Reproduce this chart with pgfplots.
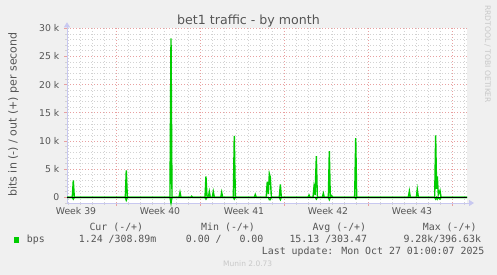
\documentclass[border=0pt]{standalone}
\usepackage{pgfplots}
\pgfplotsset{compat=1.18}
\usepackage{fontspec}
\setmainfont{DejaVu Sans}
\newfontfamily\monofont{DejaVu Sans Mono}
\usetikzlibrary{arrows.meta}
\definecolor{bgc}{HTML}{F0F0F0}
\definecolor{txt}{HTML}{555555}
\definecolor{grn}{HTML}{00CC00}
\definecolor{mgrid}{HTML}{E8A0A0}
\definecolor{mngrid}{HTML}{D2D2D2}
\definecolor{axc}{HTML}{C8C8F0}
\definecolor{light}{HTML}{C8C8C8}
\begin{document}
\begin{tikzpicture}[x=1pt,y=1pt]
\fill[bgc] (0,0) rectangle (497,275);
\useasboundingbox (0,0) rectangle (497,275);
\begin{axis}[
  at={(67pt,72pt)}, anchor=south west,
  width=400pt, height=174.7pt, scale only axis,
  xmin=0, xmax=33.333, ymin=-1000, ymax=30000,
  scaled y ticks=false, scaled x ticks=false,
  axis x line=bottom, axis y line=left,
  x axis line style={axc, line width=0.8pt, shorten >=-7pt, -{Triangle[width=6pt,length=5pt]}},
  y axis line style={axc, line width=0.8pt, shorten >=-6pt, -{Triangle[width=6pt,length=5pt]}},
  axis background/.style={fill=white},
  xtick={4.083,11.083,18.083,25.083,32.083},
  xticklabels={},
  minor xtick={0.083,1.083,2.083,3.083,5.083,6.083,7.083,8.083,9.083,10.083,12.083,13.083,14.083,15.083,16.083,17.083,19.083,20.083,21.083,22.083,23.083,24.083,26.083,27.083,28.083,29.083,30.083,31.083,33.083},
  extra x ticks={0.75,7.75,14.75,21.75,28.75},
  extra x tick labels={Week 39,Week 40,Week 41,Week 42,Week 43},
  extra x tick style={major tick length=0pt, grid=none, xticklabel style={anchor=base, yshift=-12pt}},
  ytick={0,5000,10000,15000,20000,25000,30000},
  yticklabels={0,5 k,10 k,15 k,20 k,25 k,30 k},
  minor ytick={-1000,1000,2000,3000,4000,6000,7000,8000,9000,11000,12000,13000,14000,16000,17000,18000,19000,21000,22000,23000,24000,26000,27000,28000,29000},
  grid=both,
  major grid style={mgrid, dash pattern=on 1pt off 2pt, line width=0.7pt},
  minor grid style={mngrid, dash pattern=on 1pt off 2pt, line width=0.7pt},
  tick align=outside, major tick length=3pt, minor tick length=2pt,
  major tick style={mgrid, line width=0.7pt},
  minor tick style={mngrid, line width=0.7pt},
  ticklabel style={font=\fontsize{9.3}{11}\selectfont, text=txt},
  yticklabel style={anchor=east, inner sep=0pt, xshift=-4.5pt},
  clip=false,
]
\addplot[grn, line width=1.4pt] coordinates {
(0,0) (0.44,0)(0.525,3000)(0.61,0)
(4.86,0)(4.94,4800)(5.03,0)
(8.58,0)(8.667,28200)(8.75,0)
(9.33,0)(9.417,900)(9.5,0)
(10.31,0)(10.39,200)(10.47,0)
(11.5,0)(11.58,3700)(11.67,0)
(11.78,0)(11.86,1000)(11.94,0)
(12.11,0)(12.19,1000)(12.28,0)
(12.81,0)(12.89,900)(12.97,0)
(13.86,0)(13.94,10900)(14.03,0)
(15.61,0)(15.69,500)(15.78,0)
(16.6,0)(16.69,2800)(16.78,600)(16.86,4200)(16.94,3600)(17.03,0)
(17.69,0)(17.78,2300)(17.86,0)
(20.08,0)(20.17,400)(20.25,0)
(20.5,0)(20.58,1800)(20.67,400)(20.78,7300)(20.86,0)
(21.28,0)(21.36,700)(21.44,0)
(21.78,0)(21.86,8200)(21.94,0)
(21.99,0)(22.06,300)(22.14,0)
(23.97,0)(24.06,10500)(24.14,0)
(28.44,0)(28.53,1100)(28.61,0)
(29.11,0)(29.19,1400)(29.28,0)
(30.64,0)(30.72,11000)(30.8,1500)(30.86,3700)(30.94,500)(31.08,1200)(31.17,0)
(33.333,0)
};
\addplot[grn, line width=1.4pt] coordinates {
(0,0) (0.44,0)(0.525,-300)(0.61,0)
(4.86,0)(4.94,-500)(5.03,0)
(8.58,0)(8.667,-1000)(8.75,0)
(11.5,0)(11.58,-300)(11.67,0)
(13.86,0)(13.94,-300)(14.03,0)
(16.78,0)(16.86,-400)(16.94,-400)(17.03,0)
(17.69,0)(17.78,-400)(17.86,0)
(20.69,0)(20.78,-300)(20.86,0)
(21.78,0)(21.86,-400)(21.94,0)
(23.97,0)(24.06,-200)(24.14,0)
(30.64,0)(30.72,-300)(30.8,0)(30.86,-300)(30.94,0)(31.08,-300)(31.17,0)
(33.333,0)
};
\addplot[black, line width=1.4pt] coordinates {(0,0) (33.333,0)};
\end{axis}
% title
\node[anchor=base, text=txt, font=\fontsize{12.6}{14}\selectfont, inner sep=0pt] at (248.5,250.5) {bet1 traffic - by month};
% y label
\node[anchor=base, rotate=90, text=txt, font=\fontsize{11}{13}\selectfont, inner sep=0pt] at (16.5,160.5) {bits in (-) / out (+) per second};
% rrdtool watermark
\node[anchor=base west, rotate=-90, text=light, font=\fontsize{7.6}{9}\selectfont, inner sep=0pt] at (485,270) {RRDTOOL / TOBI OETIKER};
% legend
\begin{scope}[every node/.style={anchor=base west, inner sep=0pt, text=txt, font=\monofont\fontsize{9.9}{11}\selectfont}]
\node at (89.3,44.5) {Cur (-/+)};
\node at (201,44.5) {Min (-/+)};
\node at (312.3,44.5) {Avg (-/+)};
\node at (422.7,44.5) {Max (-/+)};
\fill[grn] (14,32.3) rectangle (19.3,37.7);
\node at (26.7,32.2) {bps};
\node at (78.7,32.2) {1.24 /308.89m};
\node at (185.7,32.2) {0.00 /\ \ \ 0.00};
\node at (289.3,32.2) {15.13 /303.47};
\node at (403.3,32.2) {9.28k/396.63k};
\node at (261.7,20.5) {Last update: Mon Oct 27 01:00:07 2025};
\end{scope}
\node[anchor=base west, inner sep=0pt, text=light, font=\fontsize{7.5}{9}\selectfont] at (223,8) {Munin 2.0.73};
\end{tikzpicture}
\end{document}
